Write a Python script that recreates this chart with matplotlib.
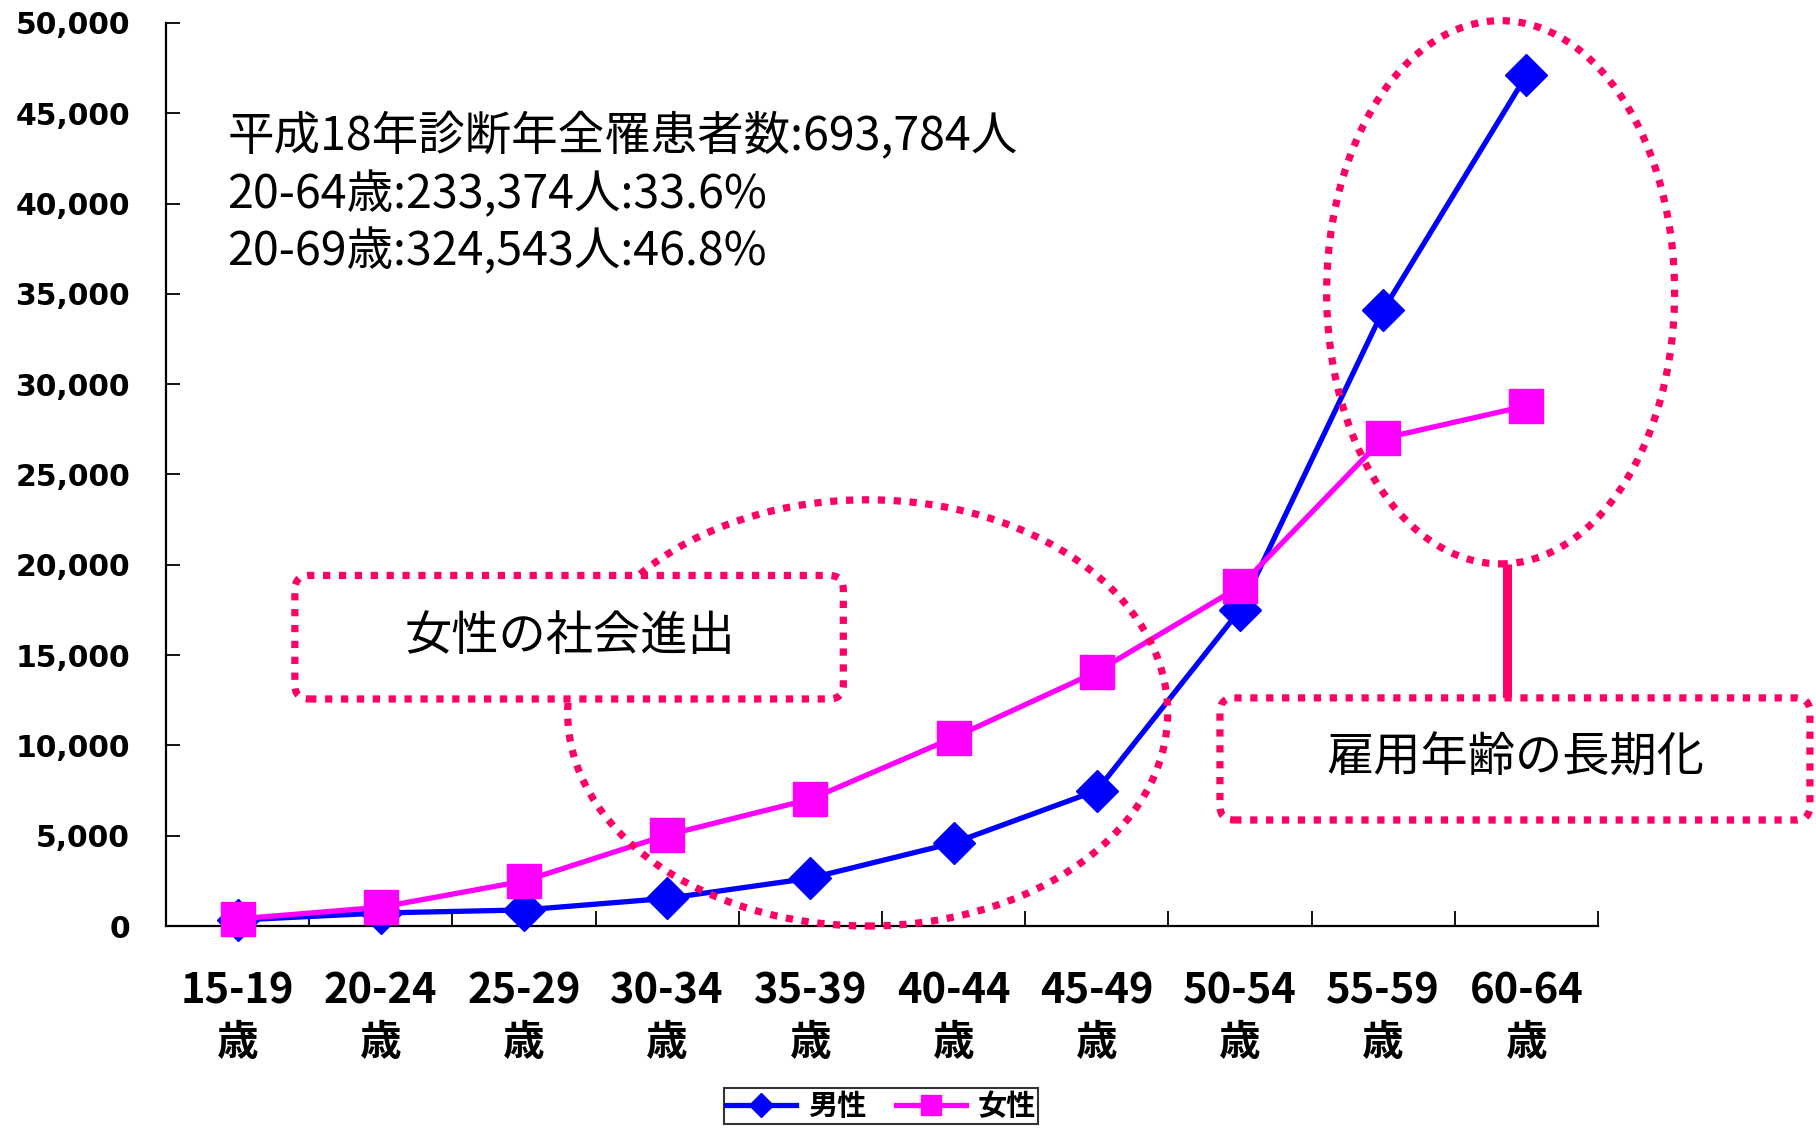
import numpy as np
import matplotlib
matplotlib.use("Agg")
import matplotlib.pyplot as plt
from matplotlib.patches import Ellipse, FancyBboxPatch
from matplotlib.ticker import FuncFormatter, FixedLocator

# データ
age_groups = ["15-19\n歳", "20-24\n歳", "25-29\n歳", "30-34\n歳", "35-39\n歳",
              "40-44\n歳", "45-49\n歳", "50-54\n歳", "55-59\n歳", "60-64\n歳"]
male = [330, 720, 890, 1530, 2650, 4600, 7500, 17500, 34100, 47100]
female = [390, 1040, 2490, 5040, 7020, 10430, 14080, 18800, 27000, 28800]
series_names = ["男性", "女性"]
info_lines = ["平成18年診断年全罹患者数:693,784人",
              "20-64歳:233,374人:33.6%",
              "20-69歳:324,543人:46.8%"]
note_left = "女性の社会進出"
note_right = "雇用年齢の長期化"

JP = ["Noto Sans CJK JP", "DejaVu Sans"]
MARK = "#FF0066"

fig = plt.figure(figsize=(18.16, 11.33), dpi=100)
ax = fig.add_axes([166 / 1816, 1 - 926 / 1133, (1598 - 166) / 1816, (926 - 23) / 1133])

x = np.arange(len(age_groups))
ax.plot(x, male, color="#0000FF", lw=3.8, marker="D", ms=21, mec="#0000FF",
        label=series_names[0], zorder=3, clip_on=False)
ax.plot(x, female, color="#FF00FF", lw=3.8, marker="s", ms=25, mec="#FF00FF",
        label=series_names[1], zorder=3.5, clip_on=False)

ax.set_xlim(-0.5, len(age_groups) - 0.5)
ax.set_ylim(0, 50000)

# 軸まわり
for s in ["top", "right"]:
    ax.spines[s].set_visible(False)
ax.spines["left"].set_linewidth(1.6)
ax.spines["bottom"].set_linewidth(1.6)
ax.set_yticks(np.arange(0, 50001, 5000))
ax.yaxis.set_major_formatter(FuncFormatter(lambda v, p: f"{int(v):,}"))
ax.tick_params(axis="y", direction="in", length=10, width=1.3, pad=26,
               labelsize=21.5)
for lab in ax.get_yticklabels():
    lab.set_fontweight("bold")
ax.set_xticks(x)
ax.set_xticklabels(age_groups, fontfamily=JP, fontweight="bold", fontsize=30,
                   linespacing=1.3)
ax.tick_params(axis="x", which="major", length=0, pad=32)
ax.xaxis.set_minor_locator(FixedLocator(np.arange(0.5, len(age_groups), 1.0)))
ax.tick_params(axis="x", which="minor", direction="in", length=11, width=1.3)

# 注記テキスト
ax.text(-0.07, 40500, "\n".join(info_lines), fontfamily=JP, fontsize=33.5,
        va="center", ha="left", linespacing=1.25, zorder=6)

dots = (0, (1.0, 1.2))
dot_lw = 5.2
ell1 = Ellipse((4.40, 11800), 4.19, 23600, fill=False, ec=MARK, lw=dot_lw,
               ls=dots, zorder=4, clip_on=False)
ell2 = Ellipse((8.82, 35090), 2.43, 30080, fill=False, ec=MARK, lw=dot_lw,
               ls=dots, zorder=4, clip_on=False)
ax.add_patch(ell1)
ax.add_patch(ell2)

aspect = 55.38 * 143.1
box1 = FancyBboxPatch((0.40, 12570), 3.83, 6840,
                      boxstyle="round,pad=0,rounding_size=0.1",
                      mutation_aspect=aspect, fc="white", ec=MARK, lw=dot_lw,
                      ls=dots, zorder=5, clip_on=False)
box2 = FancyBboxPatch((6.86, 5870), 4.12, 6760,
                      boxstyle="round,pad=0,rounding_size=0.1",
                      mutation_aspect=aspect, fc="white", ec=MARK, lw=dot_lw,
                      ls=dots, zorder=5, clip_on=False)
ax.add_patch(box1)
ax.add_patch(box2)
ax.plot([8.865, 8.865], [12630, 20050], color=MARK, lw=6.5, zorder=4.5,
        clip_on=False, solid_capstyle="butt")

ax.text(2.32, 16000, note_left, fontfamily=JP, fontsize=34, ha="center",
        va="center", zorder=6)
ax.text(8.92, 9280, note_right, fontfamily=JP, fontsize=34, ha="center",
        va="center", zorder=6)

# 凡例
leg = fig.legend(loc="upper center", bbox_to_anchor=(881 / 1816, 1 - 1088 / 1133),
                 borderaxespad=0, ncol=2, frameon=True, fancybox=False,
                 edgecolor="black", handlelength=2.4, columnspacing=1.0,
                 handletextpad=0.4, borderpad=0.1,
                 prop={"family": JP, "weight": "bold", "size": 21},
                 markerscale=0.6)
leg.get_frame().set_linewidth(1.5)

fig.savefig("out.png", dpi=100)
